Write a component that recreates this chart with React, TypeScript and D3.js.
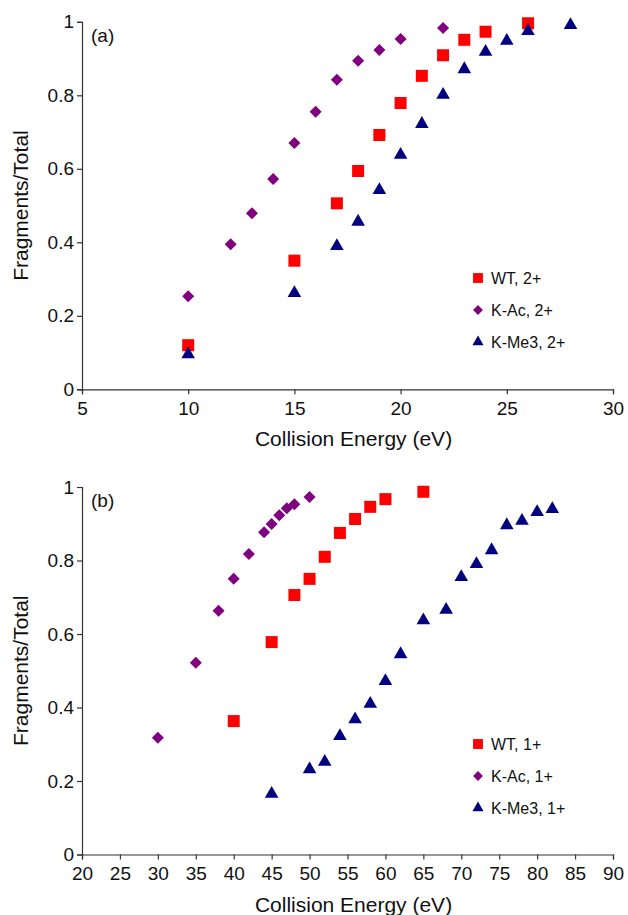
import React, { useEffect, useRef } from "react";
import * as d3 from "d3";

// Panel (a): doubly charged ions
const wt2x = [10, 15, 17, 18, 19, 20, 21, 22, 23, 24, 26];
const wt2y = [0.12, 0.35, 0.506, 0.594, 0.692, 0.779, 0.853, 0.909, 0.951, 0.973, 0.996];
const ac2x = [10, 12, 13, 14, 15, 16, 17, 18, 19, 20, 22];
const ac2y = [0.253, 0.395, 0.479, 0.572, 0.67, 0.755, 0.842, 0.894, 0.923, 0.953, 0.983];
const me2x = [10, 15, 17, 18, 19, 20, 21, 22, 23, 24, 25, 26, 28];
const me2y = [0.095, 0.262, 0.39, 0.456, 0.542, 0.638, 0.722, 0.801, 0.871, 0.918, 0.948, 0.975, 0.991];

// Panel (b): singly charged ions
const wt1x = [40, 45, 48, 50, 52, 54, 56, 58, 60, 65];
const wt1y = [0.363, 0.578, 0.706, 0.75, 0.81, 0.875, 0.913, 0.946, 0.967, 0.987];
const ac1x = [30, 35, 38, 40, 42, 44, 45, 46, 47, 48, 50];
const ac1y = [0.318, 0.522, 0.663, 0.75, 0.818, 0.877, 0.899, 0.923, 0.942, 0.953, 0.973];
const me1x = [45, 50, 52, 54, 56, 58, 60, 62, 65, 68, 70, 72, 74, 76, 78, 80, 82];
const me1y = [0.165, 0.232, 0.252, 0.322, 0.368, 0.41, 0.472, 0.545, 0.637, 0.666, 0.755, 0.79, 0.828, 0.896, 0.908, 0.932, 0.94];

const yTicks = [0, 0.2, 0.4, 0.6, 0.8, 1];
const xTicksA = [5, 10, 15, 20, 25, 30];
const xTicksB = [20, 25, 30, 35, 40, 45, 50, 55, 60, 65, 70, 75, 80, 85, 90];

const legendA = ["WT, 2+", "K-Ac, 2+", "K-Me3, 2+"];
const legendB = ["WT, 1+", "K-Ac, 1+", "K-Me3, 1+"];
const colors = ["#ff0000", "#800080", "#000080"];

const FONT = "'Liberation Sans', Arial, sans-serif";

const App = () => {
  const svgRef = useRef(null);

  useEffect(() => {
    const svg = d3.select(svgRef.current);
    svg.selectAll("*").remove();

    const drawMarker = (g, kind, x, y, scale = 1) => {
      if (kind === 0) {
        const s = 12 * scale;
        g.append("rect")
          .attr("x", x - s / 2)
          .attr("y", y - s / 2)
          .attr("width", s)
          .attr("height", s)
          .attr("fill", colors[0]);
      } else if (kind === 1) {
        g.append("path")
          .attr("d", d3.symbol(d3.symbolSquare, 72 * scale * scale)())
          .attr("transform", `translate(${x},${y}) rotate(45)`)
          .attr("fill", colors[1]);
      } else {
        g.append("path")
          .attr("d", d3.symbol(d3.symbolTriangle, 80 * scale * scale)())
          .attr("transform", `translate(${x},${y})`)
          .attr("fill", colors[2]);
      }
    };

    const panel = (cfg) => {
      const { top, bottom, xDomain, xTicks, series, legend, label, legendY } = cfg;
      const left = 82;
      const right = 613;
      const x = d3.scaleLinear().domain(xDomain).range([left, right]);
      const y = d3.scaleLinear().domain([0, 1]).range([bottom, top]);
      const g = svg.append("g");

      // axes
      const yAxis = g.append("g")
        .attr("transform", `translate(${left},0)`)
        .call(d3.axisLeft(y).tickValues(yTicks).tickSize(5).tickPadding(3).tickFormat(d3.format("~g")));
      const xAxis = g.append("g")
        .attr("transform", `translate(0,${bottom})`)
        .call(d3.axisBottom(x).tickValues(xTicks).tickSize(5).tickPadding(7).tickSizeOuter(5));
      [yAxis, xAxis].forEach((a) => {
        a.selectAll("path, line").attr("stroke", "#333").attr("stroke-width", 1.2);
        a.selectAll("text")
          .attr("fill", "#111")
          .style("font-family", FONT)
          .style("font-size", "19px");
      });

      // points
      series.forEach(([xs, ys], k) => {
        xs.forEach((v, i) => drawMarker(g, k, x(v), y(ys[i])));
      });

      // titles
      g.append("text")
        .attr("x", (left + right) / 2 + 6)
        .attr("y", bottom + 57)
        .attr("text-anchor", "middle")
        .attr("fill", "#111")
        .style("font-family", FONT)
        .style("font-size", "21px")
        .text("Collision Energy (eV)");
      g.append("text")
        .attr("transform", `translate(28,${(top + bottom) / 2}) rotate(-90)`)
        .attr("text-anchor", "middle")
        .attr("fill", "#111")
        .style("font-family", FONT)
        .style("font-size", "21px")
        .text("Fragments/Total");
      g.append("text")
        .attr("x", 91)
        .attr("y", top + 20)
        .attr("fill", "#111")
        .style("font-family", FONT)
        .style("font-size", "19px")
        .text(label);

      // legend
      legend.forEach((name, k) => {
        const ly = legendY + k * 32;
        drawMarker(g, k, 478, ly, 0.82);
        g.append("text")
          .attr("x", 491)
          .attr("y", ly)
          .attr("dy", "0.35em")
          .attr("fill", "#111")
          .style("font-family", FONT)
          .style("font-size", "16px")
          .text(name);
      });
    };

    panel({
      top: 21.8,
      bottom: 389.3,
      xDomain: [5, 30],
      xTicks: xTicksA,
      series: [[wt2x, wt2y], [ac2x, ac2y], [me2x, me2y]],
      legend: legendA,
      label: "(a)",
      legendY: 278,
    });
    panel({
      top: 487,
      bottom: 854.5,
      xDomain: [20, 90],
      xTicks: xTicksB,
      series: [[wt1x, wt1y], [ac1x, ac1y], [me1x, me1y]],
      legend: legendB,
      label: "(b)",
      legendY: 744,
    });
  }, []);

  return (
    <svg
      ref={svgRef}
      width={628}
      height={915}
      style={{ position: "absolute", left: 0, top: 0, background: "#fff" }}
    />
  );
};

export default App;
